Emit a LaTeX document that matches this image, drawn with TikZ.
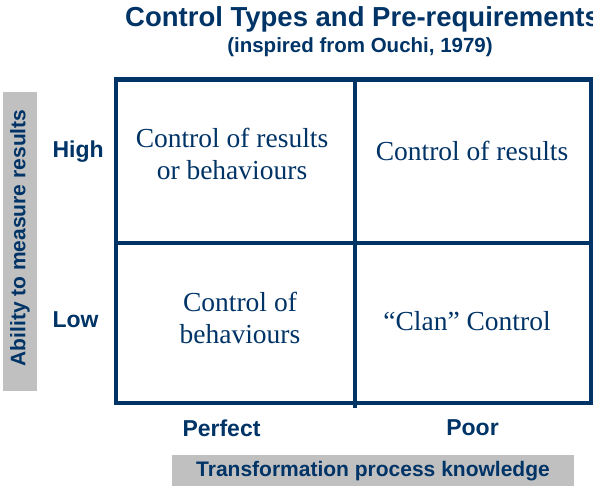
\documentclass[tikz,border=0pt]{standalone}
\usepackage{fontspec}
\setmainfont{Liberation Serif}
\setsansfont{Liberation Sans}
\definecolor{navy}{HTML}{003366}
\definecolor{axisgray}{HTML}{C0C0C0}

\begin{document}
\begin{tikzpicture}[x=1pt,y=-1pt,
    cell/.style={font=\fontsize{27.5}{32}\selectfont, text=navy, align=center},
    lbl/.style={font=\sffamily\bfseries\fontsize{23}{26}\selectfont, text=navy},
    axistitle/.style={font=\sffamily\bfseries\fontsize{21}{25}\selectfont, text=navy},
    grid/.style={draw=navy, line width=4.6pt}]
        \useasboundingbox (0,0) rectangle (593,486);

        \node[font=\sffamily\bfseries\fontsize{27.5}{30}\selectfont, text=navy, anchor=base west, inner sep=0pt] (title) at (125,27) {Control Types and Pre-requirements};
        \node[font=\sffamily\bfseries\fontsize{20.5}{24}\selectfont, text=navy, anchor=base] (subtitle) at (360,53) {(inspired from Ouchi, 1979)};

        \fill[axisgray] (3,92) rectangle (37,391);
        \node[axistitle, rotate=90] (ytitle) at (20,238) {Ability to measure results};

        \fill[axisgray] (172,455) rectangle (574,486);
        \node[axistitle] (xtitle) at (373,471) {Transformation process knowledge};

        \draw[grid] (116,79.5) rectangle (591,403);
        \draw[grid] (116,243) -- (591,243);
        \draw[grid] (355,79.5) -- (355,408);

        \node[lbl, anchor=west] (high) at (49,151.5) {High};
        \node[lbl, anchor=west] (low) at (49,319.5) {Low};
        \node[lbl] (perfect) at (221.5,428) {Perfect};
        \node[lbl] (poor) at (472.5,428) {Poor};

        \node[cell] (resbeh) at (232,154) {Control of results\\or behaviours};
        \node[cell] (res) at (472,151) {Control of results};
        \node[cell] (beh) at (240,318) {Control of\\behaviours};
        \node[cell] (clan) at (467,321) {``Clan'' Control};

    \end{tikzpicture}
\end{document}
